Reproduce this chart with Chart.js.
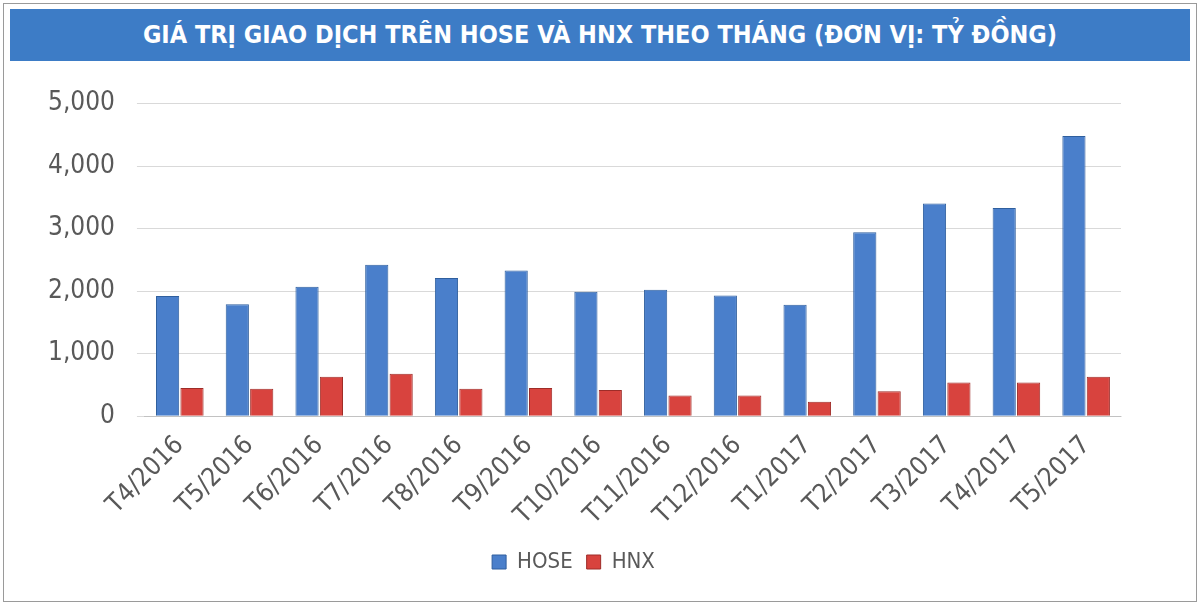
<!DOCTYPE html>
<html>
<head>
<meta charset="utf-8">
<script src="https://cdn.jsdelivr.net/npm/chart.js@4"></script>
<style>
  body { margin: 0; background: #fff; }
  #frame { position: absolute; left: 3px; top: 3px; width: 1192px; height: 597px; border: 1px solid #9a9a9a; }
  #title { position: absolute; left: 6px; top: 5px; width: 1180px; height: 52px; background: #3d7cc6;
    color: #fff; font: bold 25px "DejaVu Sans Condensed", "DejaVu Sans", sans-serif; text-align: center; line-height: 52px; }
  #wrap { position: absolute; left: 0; top: 62px; width: 1192px; height: 535px; }
</style>
</head>
<body>
<div id="frame">
  <div id="title">GIÁ TRỊ GIAO DỊCH TRÊN HOSE VÀ HNX THEO THÁNG (ĐƠN VỊ: TỶ ĐỒNG)</div>
  <div id="wrap"><canvas id="chart"></canvas></div>
</div>
<script>
const months = ["T4/2016", "T5/2016", "T6/2016", "T7/2016", "T8/2016", "T9/2016", "T10/2016",
  "T11/2016", "T12/2016", "T1/2017", "T2/2017", "T3/2017", "T4/2017", "T5/2017"];
const hose = [1920, 1790, 2070, 2420, 2210, 2330, 1990, 2020, 1930, 1780, 2940, 3400, 3330, 4480];
const hnx = [450, 440, 630, 680, 440, 450, 420, 330, 330, 230, 400, 540, 540, 630];

window.onload = function () {
    const ctx = document.getElementById('chart').getContext('2d');
    new Chart(ctx, {
        type: 'bar',
        data: {
            labels: months,
            datasets: [
                { label: 'HOSE', data: hose, backgroundColor: '#4a7fcb', borderColor: '#2f5f9e', borderWidth: 1 },
                { label: 'HNX', data: hnx, backgroundColor: '#d8433e', borderColor: '#9e2c28', borderWidth: 1 }
            ]
        },
        options: {
            responsive: true,
            maintainAspectRatio: false,
            animation: false,
            datasets: { bar: { categoryPercentage: 0.7, barPercentage: 0.95 } },
            layout: { padding: { left: 22, right: 75, top: 14, bottom: 18 } },
            scales: {
                x: {
                    grid: { display: false },
                    ticks: { color: '#595959', maxRotation: 45, minRotation: 45, padding: 6,
                        font: { family: 'DejaVu Sans Condensed', size: 26 } }
                },
                y: {
                    min: 0, max: 5000,
                    ticks: { stepSize: 1000, color: '#595959', padding: 22,
                        font: { family: 'DejaVu Sans Condensed', size: 26 },
                        callback: v => v.toLocaleString('en-US') },
                    grid: { color: '#d9d9d9' },
                    border: { display: false }
                }
            },
            plugins: {
                legend: {
                    position: 'bottom',
                    labels: { color: '#595959', boxWidth: 14, boxHeight: 14, padding: 14,
                        font: { family: 'DejaVu Sans Condensed', size: 22 } }
                },
                tooltip: { enabled: false }
            }
        }
    });
};
</script>
</body>
</html>
